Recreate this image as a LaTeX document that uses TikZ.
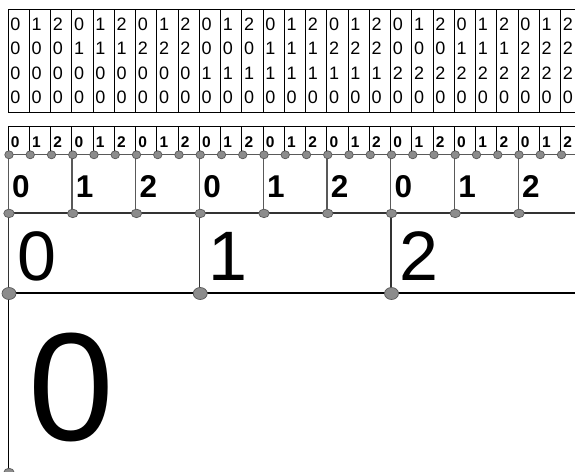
\documentclass[tikz,border=0pt]{standalone}
\usepackage{fontspec}
\setmainfont{Liberation Sans}
\usepackage{tikz}
\usetikzlibrary{shapes.geometric}

\begin{document}
\begin{tikzpicture}[x=1pt, y=-1pt,
    tabcol/.style={rectangle, draw=black, line width=0.8pt, anchor=north west,
                   minimum width=21.25pt, minimum height=103pt, text width=16.25pt,
                   inner xsep=2.5pt, inner ysep=0pt, align=left,
                   font=\fontsize{18}{24.3}\selectfont},
    cellone/.style={rectangle, draw=black, line width=0.8pt, anchor=north west,
                    minimum width=21.25pt, minimum height=28pt, text width=15.25pt,
                    inner xsep=3pt, inner ysep=0pt, align=left,
                    text height=14.6pt, text depth=0pt,
                    font=\bfseries\fontsize{15.5}{18}\selectfont},
    celltwo/.style={rectangle, draw=black!65, line width=1.4pt, anchor=north west,
                    minimum width=63.75pt, minimum height=58pt, text width=55.75pt,
                    inner xsep=4pt, inner ysep=0pt, align=left,
                    text height=27.4pt, text depth=0pt,
                    font=\bfseries\fontsize{31.5}{36}\selectfont},
    cellthree/.style={rectangle, draw=black!80, line width=1.5pt, anchor=north west,
                      minimum width=191.25pt, minimum height=80pt, text width=173.25pt,
                      inner xsep=9pt, inner ysep=0pt, align=left,
                      text height=56pt, text depth=0pt,
                      font=\fontsize{70}{80}\selectfont},
    cellfour/.style={rectangle, draw=black, line width=1.5pt, anchor=north west,
                     minimum width=568.5pt, minimum height=181pt, text width=528.5pt,
                     inner xsep=20pt, inner ysep=0pt, align=left,
                     text height=115pt, text depth=0pt,
                     font=\fontsize{154}{160}\selectfont},
    dot/.style={ellipse, draw=black!65, fill=black!45, line width=0.7pt, inner sep=0pt},
    dotone/.style={dot, minimum width=8.5pt, minimum height=8pt},
    dottwo/.style={dot, minimum width=10.5pt, minimum height=8.5pt},
    dotthree/.style={dot, minimum width=14pt, minimum height=12pt},
]

\useasboundingbox (0,0) rectangle (575,471);
\clip (0,0) rectangle (575,471);

% Table of digits
\foreach \c in {0,...,26} {
    \pgfmathtruncatemacro\first{mod(\c,3)}
    \pgfmathtruncatemacro\second{mod(floor(\c/3),3)}
    \pgfmathtruncatemacro\third{floor(\c/9)}
    \node[tabcol] (t\c) at ({7.5+\c*21.25},9) {\first\\\second\\\third\\0};
}

% Smallest cells
\foreach \c in {0,...,26} {
    \pgfmathtruncatemacro\first{mod(\c,3)}
    \node[cellone] (a\c) at ({7.5+\c*21.25},126) {\first};
}

% Medium cells
\foreach \c in {0,...,8} {
    \pgfmathtruncatemacro\first{mod(\c,3)}
    \node[celltwo] (b\c) at ({7.5+\c*63.75},154) {\first};
}

% Large cells
\foreach \c in {0,1,2} {
    \node[cellthree] (c\c) at ({7.5+\c*191.25},212) {\c};
}

% Largest cell
\node[cellfour] (d0) at (7.5,292) {0};

% Corner points
\foreach \c in {0,...,26} {
    \node[dotone] (pa\c) at ([xshift=1.5pt]a\c.south west) {};
}
\foreach \c in {0,...,8} {
    \node[dottwo] (pb\c) at ([xshift=1.5pt]b\c.south west) {};
}
\foreach \c in {0,1,2} {
    \node[dotthree] (pc\c) at ([xshift=1.5pt]c\c.south west) {};
}
\node[dottwo] (pd0) at ([xshift=1.5pt,yshift=2pt]d0.south west) {};

\end{tikzpicture}
\end{document}
